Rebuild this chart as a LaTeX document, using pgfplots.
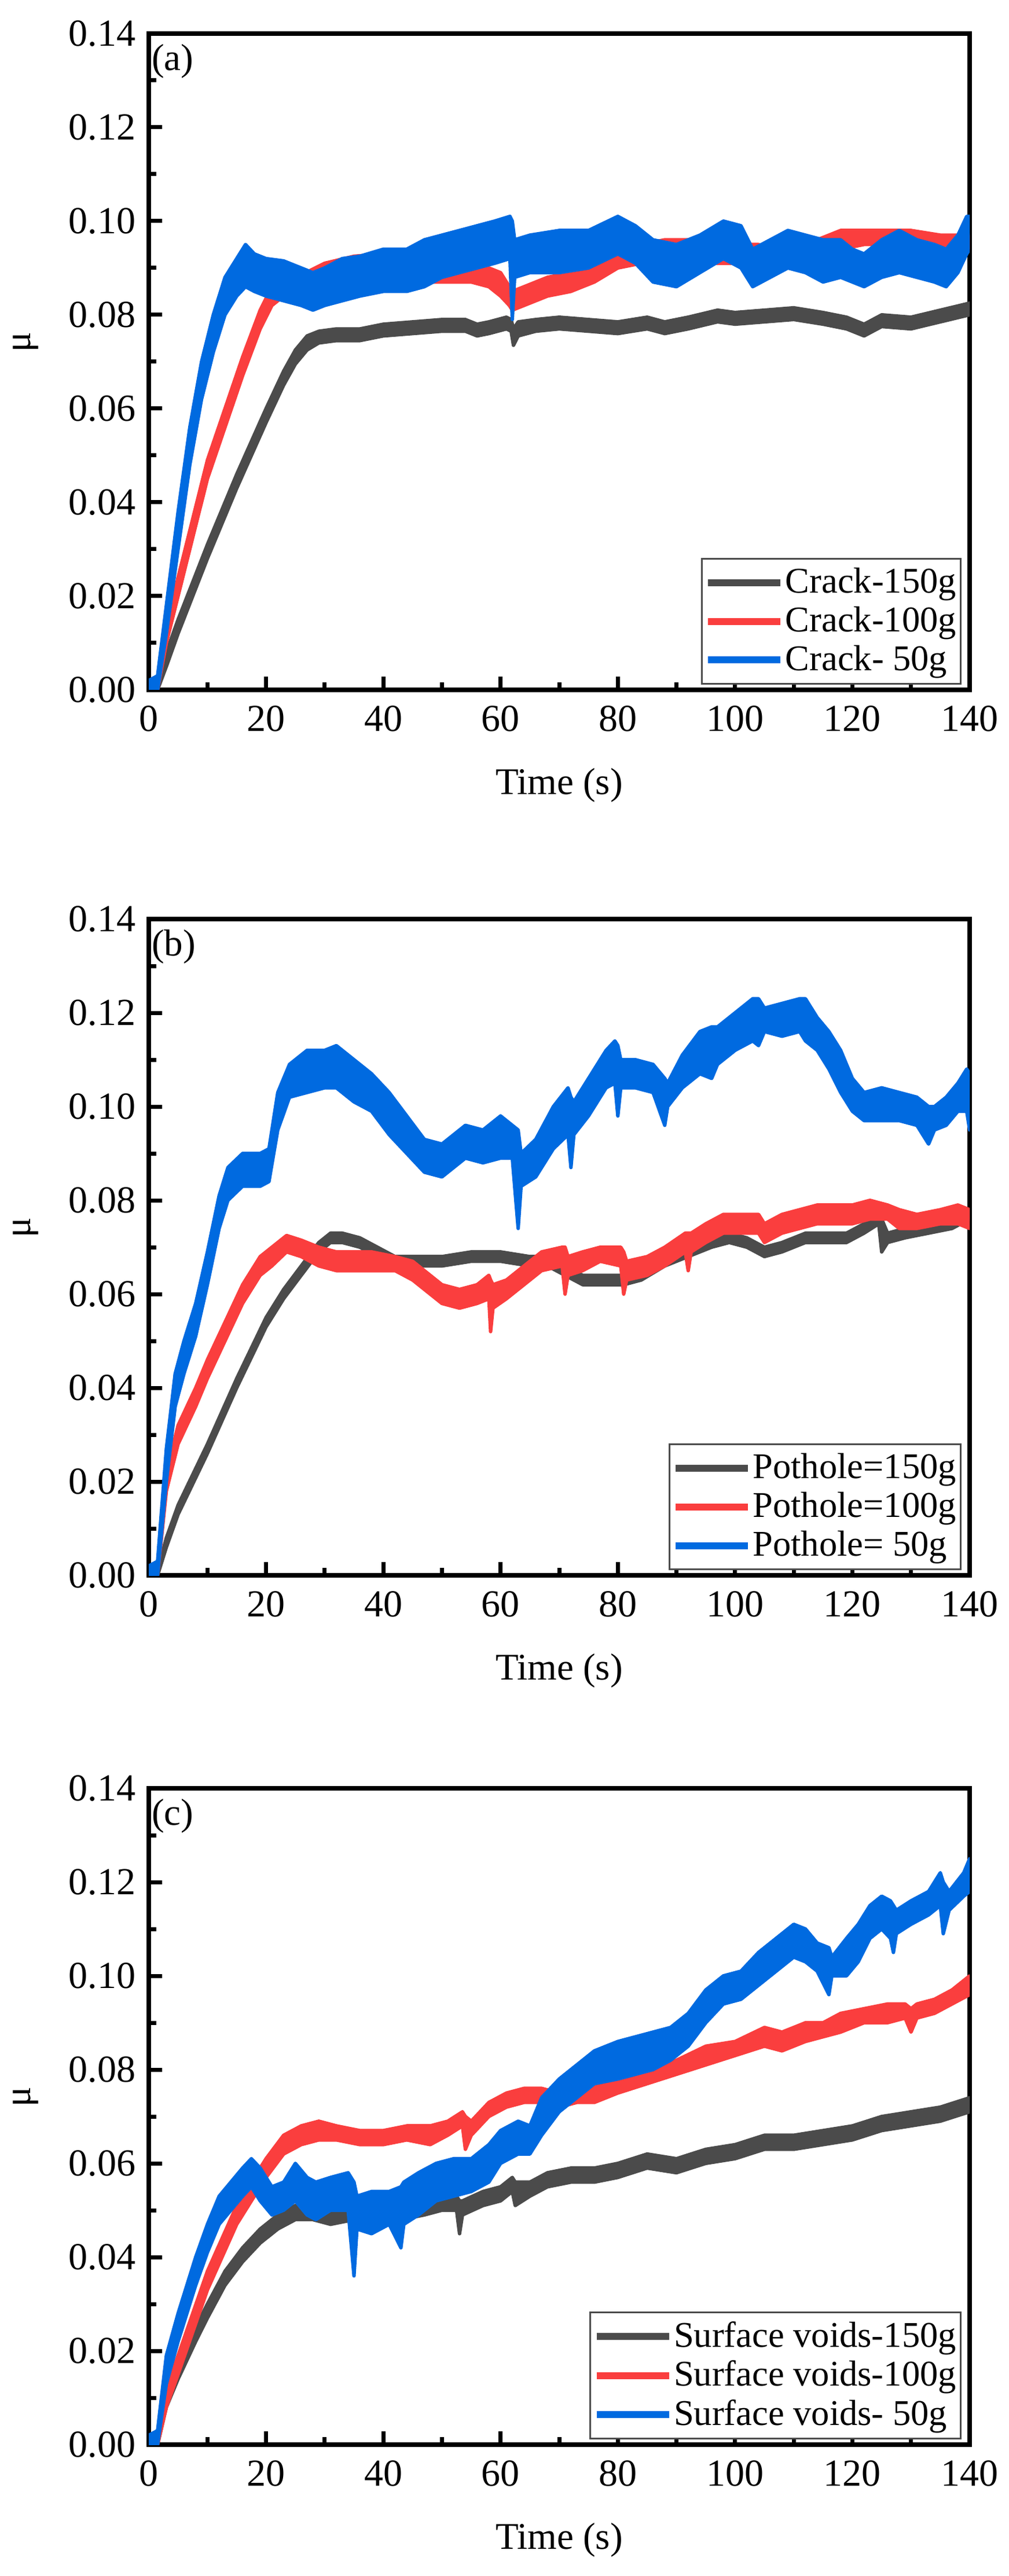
\documentclass[border=0pt]{standalone}
\usepackage{fontspec}
\setmainfont{Liberation Serif}
\usepackage{pgfplots}
\usepackage{pgfplotstable}
\pgfplotsset{compat=1.18}
\usepgfplotslibrary{fillbetween}
\definecolor{cgray}{RGB}{75,75,75}
\definecolor{cred}{RGB}{250,62,62}
\definecolor{cblue}{RGB}{0,106,224}

% ---------- Panel (a) ----------
\pgfplotstableread{
x lo hi
0 0 0.001
1.5 0 0.001
3 0.005 0.008
5 0.012 0.015
10 0.028 0.031
15 0.043 0.046
20 0.057 0.060
23 0.065 0.068
25 0.0695 0.0725
27 0.0725 0.0755
29 0.074 0.0765
32 0.0745 0.077
36 0.0745 0.077
40 0.0755 0.078
45 0.076 0.0785
50 0.0765 0.079
54 0.0765 0.079
56 0.0755 0.078
58 0.076 0.0785
61 0.077 0.0795
61.8 0.0765 0.079
62.2 0.0735 0.077
63 0.0755 0.0785
66 0.0765 0.079
70 0.077 0.0795
75 0.0765 0.079
80 0.076 0.0785
85 0.077 0.0795
88 0.076 0.0785
92 0.077 0.0795
97 0.0785 0.081
100 0.078 0.0805
105 0.0785 0.081
110 0.079 0.0815
115 0.078 0.0805
119 0.077 0.0795
122 0.0755 0.078
125 0.0775 0.080
130 0.077 0.0795
135 0.0785 0.081
140 0.080 0.0825
}\aGray
\pgfplotstableread{
x lo hi
0 0 0.001
1.5 0 0.002
3 0.010 0.013
5 0.020 0.024
8 0.035 0.039
10 0.045 0.049
13 0.056 0.060
16 0.067 0.071
19 0.077 0.081
21 0.082 0.086
23 0.084 0.087
26 0.0845 0.0885
30 0.087 0.091
35 0.0885 0.0925
40 0.089 0.093
45 0.089 0.093
48 0.087 0.091
52 0.087 0.0915
55 0.087 0.091
58 0.086 0.090
60 0.084 0.089
61.5 0.082 0.086
62 0.081 0.085
64 0.082 0.086
68 0.084 0.088
72 0.085 0.089
76 0.087 0.0905
80 0.090 0.093
84 0.091 0.095
88 0.092 0.096
92 0.092 0.096
96 0.091 0.095
100 0.091 0.095
104 0.091 0.095
107 0.089 0.093
110 0.091 0.095
114 0.092 0.096
118 0.094 0.098
122 0.095 0.098
126 0.095 0.098
130 0.095 0.098
135 0.094 0.097
138 0.094 0.097
140 0.094 0.097
}\aRed
\pgfplotstableread{
x lo hi
0 0 0.002
1.5 0 0.003
3 0.012 0.018
5 0.030 0.038
7 0.048 0.056
9 0.062 0.070
11 0.072 0.080
13 0.080 0.088
15 0.084 0.092
16.5 0.086 0.095
18 0.085 0.093
20 0.084 0.092
23 0.083 0.0915
26 0.082 0.090
28 0.081 0.089
30 0.082 0.090
33 0.083 0.092
36 0.084 0.0925
40 0.085 0.094
44 0.085 0.094
47 0.086 0.096
50 0.088 0.097
53 0.089 0.098
56 0.090 0.099
59 0.091 0.100
61.6 0.092 0.101
62.0 0.079 0.100
62.4 0.088 0.096
65 0.089 0.097
70 0.089 0.098
75 0.090 0.098
80 0.093 0.101
83 0.091 0.099
86 0.087 0.096
90 0.086 0.095
94 0.089 0.097
98 0.092 0.100
101 0.090 0.099
103 0.086 0.094
106 0.088 0.096
109 0.090 0.098
112 0.089 0.097
115 0.087 0.096
118 0.088 0.096
120 0.087 0.094
122 0.086 0.093
125 0.088 0.096
128 0.089 0.098
131 0.088 0.096
134 0.087 0.095
136 0.086 0.094
138 0.089 0.097
139.5 0.093 0.101
140 0.094 0.101
}\aBlue

% ---------- Panel (b) ----------
\pgfplotstableread{
x lo hi
0 0 0.001
1.5 0 0.001
3 0.006 0.008
5 0.013 0.015
10 0.026 0.028
15 0.040 0.042
20 0.053 0.055
23 0.059 0.061
26 0.064 0.066
29 0.069 0.071
31 0.071 0.073
33 0.071 0.073
36 0.070 0.072
39 0.068 0.070
42 0.066 0.068
46 0.066 0.068
50 0.066 0.068
55 0.067 0.069
60 0.067 0.069
65 0.066 0.068
68 0.066 0.068
71 0.064 0.066
74 0.062 0.064
78 0.062 0.064
81 0.062 0.064
84 0.063 0.065
88 0.066 0.068
92 0.068 0.070
96 0.070 0.072
99 0.071 0.073
102 0.070 0.072
105 0.068 0.070
108 0.069 0.071
112 0.071 0.073
116 0.071 0.073
119 0.071 0.073
122 0.073 0.075
124.5 0.075 0.077
125 0.069 0.076
126 0.071 0.073
129 0.072 0.074
133 0.073 0.075
137 0.074 0.076
140 0.076 0.078
}\bGray
\pgfplotstableread{
x lo hi
0 0 0.001
1.5 0 0.002
3 0.018 0.022
5 0.028 0.032
8 0.036 0.040
10 0.042 0.046
13 0.050 0.054
16 0.058 0.062
19 0.064 0.068
21 0.066 0.070
23.5 0.069 0.0725
26 0.068 0.0715
29 0.066 0.070
32 0.065 0.069
35 0.065 0.069
38 0.065 0.069
42 0.065 0.068
45 0.063 0.067
48 0.060 0.064
50 0.058 0.062
53 0.057 0.061
56 0.058 0.062
58 0.059 0.064
58.3 0.052 0.063
58.7 0.057 0.062
61 0.059 0.063
64 0.062 0.066
67 0.065 0.069
70.5 0.066 0.070
71 0.060 0.070
71.5 0.064 0.068
74 0.065 0.069
77 0.067 0.070
80.5 0.066 0.070
81 0.060 0.069
81.5 0.063 0.067
85 0.064 0.068
88 0.066 0.070
91.5 0.069 0.073
92 0.065 0.073
92.5 0.069 0.073
95 0.071 0.075
98 0.073 0.077
102 0.073 0.077
104 0.073 0.077
105 0.071 0.075
108 0.073 0.077
111 0.074 0.078
114 0.075 0.079
117 0.075 0.079
120 0.075 0.079
123 0.076 0.080
126 0.076 0.079
128 0.074 0.078
131 0.074 0.077
135 0.075 0.078
138 0.075 0.079
140 0.074 0.078
}\bRed
\pgfplotstableread{
x lo hi
0 0 0.002
1.5 0 0.003
3 0.020 0.027
4.5 0.036 0.043
6 0.043 0.050
8 0.051 0.058
10 0.062 0.069
12 0.074 0.081
13.5 0.080 0.087
16 0.083 0.090
19 0.083 0.090
20.5 0.084 0.091
22 0.095 0.103
24 0.102 0.109
27 0.103 0.112
30 0.104 0.112
32 0.104 0.113
35 0.101 0.110
38 0.099 0.107
41 0.094 0.103
44 0.090 0.098
47 0.086 0.093
50 0.085 0.092
52 0.087 0.094
54 0.089 0.096
57 0.088 0.095
60 0.089 0.098
62 0.089 0.096
63 0.074 0.095
63.5 0.083 0.090
66 0.085 0.093
69 0.091 0.100
71.5 0.094 0.104
72 0.087 0.102
72.5 0.094 0.101
75 0.098 0.106
78 0.104 0.112
79.5 0.105 0.114
80 0.098 0.113
80.5 0.104 0.110
83 0.104 0.110
86 0.103 0.109
88 0.096 0.106
88.5 0.100 0.105
91 0.104 0.111
94 0.107 0.116
96 0.106 0.117
97 0.109 0.117
100 0.112 0.120
103 0.114 0.123
104 0.113 0.123
105 0.116 0.121
108 0.115 0.122
111 0.116 0.123
112 0.114 0.123
114 0.112 0.119
116 0.108 0.116
118 0.103 0.112
120 0.099 0.106
122 0.097 0.103
125 0.097 0.104
128 0.097 0.103
131 0.096 0.102
133 0.092 0.100
134 0.095 0.100
136 0.096 0.102
138 0.099 0.105
139.5 0.099 0.108
140 0.095 0.107
}\bBlue

% ---------- Panel (c) ----------
\pgfplotstableread{
x lo hi
0 0 0.001
1.5 0 0.001
3 0.008 0.011
5 0.014 0.017
8 0.022 0.025
10 0.027 0.030
13 0.034 0.037
16 0.039 0.042
19 0.043 0.046
22 0.046 0.049
25 0.048 0.051
28 0.048 0.051
31 0.047 0.050
35 0.048 0.051
39 0.047 0.050
43 0.048 0.051
47 0.049 0.052
50 0.050 0.053
52.5 0.050 0.053
53 0.045 0.052
53.5 0.049 0.052
57 0.051 0.054
60 0.052 0.055
62 0.054 0.057
62.5 0.051 0.056
65 0.053 0.056
68 0.055 0.058
72 0.056 0.059
76 0.056 0.059
80 0.057 0.060
85 0.059 0.062
90 0.058 0.061
95 0.060 0.063
100 0.061 0.064
105 0.063 0.066
110 0.063 0.066
115 0.064 0.067
120 0.065 0.068
125 0.067 0.070
130 0.068 0.071
135 0.069 0.072
140 0.071 0.074
}\cGray
\pgfplotstableread{
x lo hi
0 0 0.001
1.5 0 0.002
3 0.008 0.012
5 0.015 0.019
10 0.033 0.037
15 0.047 0.051
18 0.053 0.057
20 0.057 0.061
23 0.062 0.066
26 0.064 0.068
29 0.065 0.069
32 0.065 0.068
36 0.064 0.067
40 0.064 0.067
44 0.065 0.068
48 0.064 0.068
51 0.066 0.069
53.5 0.068 0.071
54 0.063 0.070
55 0.066 0.069
58 0.070 0.073
61 0.072 0.075
64 0.073 0.076
67 0.073 0.076
70 0.072 0.075
73 0.073 0.076
76 0.073 0.077
80 0.075 0.079
85 0.077 0.080
90 0.079 0.082
95 0.081 0.085
100 0.083 0.086
105 0.085 0.089
108 0.084 0.088
112 0.086 0.090
115 0.087 0.090
118 0.088 0.092
122 0.090 0.093
126 0.090 0.094
129 0.091 0.094
130 0.088 0.093
131 0.091 0.094
134 0.092 0.095
137 0.094 0.097
140 0.096 0.100
}\cRed
\pgfplotstableread{
x lo hi
0 0 0.002
1.5 0 0.003
3 0.013 0.019
5 0.022 0.028
8 0.034 0.040
10 0.041 0.047
12 0.047 0.053
14 0.050 0.056
16 0.053 0.059
17.5 0.055 0.061
19 0.052 0.059
21 0.049 0.055
23 0.050 0.056
25 0.052 0.060
27 0.049 0.057
28.5 0.048 0.056
31 0.050 0.057
34 0.050 0.058
35 0.036 0.056
35.5 0.046 0.053
38 0.045 0.054
41 0.047 0.054
43 0.042 0.055
43.5 0.047 0.056
46 0.049 0.058
49 0.052 0.060
52 0.053 0.061
55 0.054 0.061
58 0.056 0.064
60 0.060 0.067
63 0.062 0.069
65 0.062 0.068
67 0.066 0.074
70 0.071 0.078
73 0.074 0.081
76 0.077 0.084
80 0.078 0.086
83 0.079 0.087
86 0.080 0.088
89 0.082 0.089
92 0.085 0.092
95 0.090 0.097
98 0.094 0.100
101 0.095 0.101
104 0.098 0.105
107 0.101 0.108
110 0.104 0.111
112 0.103 0.110
114 0.101 0.107
116 0.096 0.106
116.5 0.100 0.104
119 0.100 0.108
121 0.103 0.111
123 0.108 0.115
125 0.110 0.117
126.5 0.108 0.116
127 0.105 0.115
127.5 0.109 0.114
130 0.111 0.116
133 0.113 0.118
135 0.115 0.122
135.5 0.109 0.120
136.5 0.114 0.118
139 0.117 0.122
140 0.118 0.125
}\cBlue

\newcommand{\band}[3]{%
  \addplot[name path=#3lo, draw=none, forget plot] table[x=x,y=lo]{#1};
  \addplot[name path=#3hi, draw=none, forget plot] table[x=x,y=hi]{#1};
  \addplot[fill=#2, draw=#2, line width=1.2pt, line join=round, forget plot] fill between[of=#3lo and #3hi];
}

\pgfplotsset{
  /pgf/number format/assume math mode=true,
  panel/.style={
    width=283.6pt, height=226.8pt, scale only axis,
    xmin=0, xmax=140, ymin=0, ymax=0.14,
    xtick={0,20,40,60,80,100,120,140},
    ytick={0,0.02,0.04,0.06,0.08,0.10,0.12,0.14},
    xticklabel={\textrm{\pgfmathprintnumber[assume math mode=true]{\tick}}},
    yticklabel={\textrm{\pgfmathprintnumber[assume math mode=true,fixed,fixed zerofill,precision=2]{\tick}}},
    scaled y ticks=false,
    minor x tick num=1, minor y tick num=1,
    tick align=inside, xtick pos=bottom, ytick pos=left,
    major tick length=4.6pt, minor tick length=2.6pt,
    every tick/.style={black, line width=1.4pt},
    axis line style={line width=1.6pt},
    tick label style={font=\fontsize{13.2}{15}\selectfont},
    xticklabel style={yshift=-2pt},
    yticklabel style={xshift=-1pt},
    xlabel={Time (s)}, ylabel={μ},
    label style={font=\fontsize{13}{15}\selectfont},
    xlabel style={at={(axis description cs:0.5,-0.1455)}, anchor=center},
    ylabel style={at={(axis description cs:-0.1495,0.53)}, anchor=center},
    legend cell align=left,
    legend style={at={(0.99,0.008)}, anchor=south east, draw=black!70, line width=0.6pt,
      fill=white, font=\fontsize{12.5}{14}\selectfont,
      inner xsep=1pt, inner ysep=1.5pt, row sep=0pt,
      nodes={inner xsep=0.5pt, inner ysep=1.6pt}},
    legend image code/.code={\draw[##1] (0pt,0pt) -- (25pt,0pt);},
  }
}

\begin{document}
\begin{tikzpicture}
\path (-51.4pt,11.6pt) rectangle (297pt,-878.6pt);

\begin{axis}[panel, at={(0pt,0pt)}, anchor=north west]
\band{\aGray}{cgray}{ag}
\band{\aRed}{cred}{ar}
\band{\aBlue}{cblue}{ab}
\addlegendimage{cgray, line width=2.4pt}
\addlegendentry{Crack-150g}
\addlegendimage{cred, line width=2.4pt}
\addlegendentry{Crack-100g}
\addlegendimage{cblue, line width=2.4pt}
\addlegendentry{Crack- 50g}
\node[anchor=north west, inner sep=0pt, font=\fontsize{13}{15}\selectfont] at (rel axis cs:0.003,0.985) {(a)};
\end{axis}

\begin{axis}[panel, at={(0pt,-306pt)}, anchor=north west]
\band{\bGray}{cgray}{bg}
\band{\bRed}{cred}{br}
\band{\bBlue}{cblue}{bb}
\addlegendimage{cgray, line width=2.4pt}
\addlegendentry{Pothole=150g}
\addlegendimage{cred, line width=2.4pt}
\addlegendentry{Pothole=100g}
\addlegendimage{cblue, line width=2.4pt}
\addlegendentry{Pothole= 50g}
\node[anchor=north west, inner sep=0pt, font=\fontsize{13}{15}\selectfont] at (rel axis cs:0.003,0.985) {(b)};
\end{axis}

\begin{axis}[panel, at={(0pt,-606.4pt)}, anchor=north west]
\band{\cGray}{cgray}{cg}
\band{\cRed}{cred}{cr}
\band{\cBlue}{cblue}{cb}
\addlegendimage{cgray, line width=2.4pt}
\addlegendentry{Surface voids-150g}
\addlegendimage{cred, line width=2.4pt}
\addlegendentry{Surface voids-100g}
\addlegendimage{cblue, line width=2.4pt}
\addlegendentry{Surface voids- 50g}
\node[anchor=north west, inner sep=0pt, font=\fontsize{13}{15}\selectfont] at (rel axis cs:0.003,0.985) {(c)};
\end{axis}
\end{tikzpicture}
\end{document}
